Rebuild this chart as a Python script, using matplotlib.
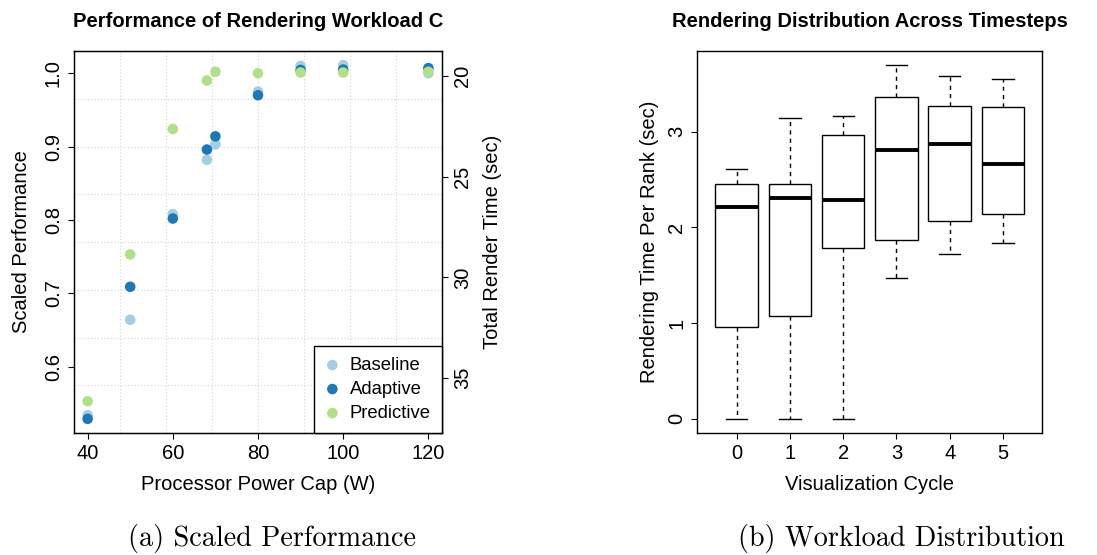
import matplotlib
matplotlib.use("Agg")
import matplotlib.pyplot as plt
import numpy as np

plt.rcParams['font.family'] = ['Liberation Sans', 'DejaVu Sans']

# left panel: scaled performance vs power cap
power_caps = [40, 50, 60, 68, 70, 80, 90, 100, 120]
baseline = [0.534, 0.664, 0.808, 0.882, 0.903, 0.975, 1.010, 1.011, 1.000]
adaptive = [0.529, 0.709, 0.802, 0.896, 0.914, 0.970, 1.0045, 1.005, 1.007]
predictive = [0.553, 0.753, 0.924, 0.990, 1.002, 1.000, 1.001, 1.001, 1.002]
series_names = ['Baseline', 'Adaptive', 'Predictive']
series_colors = ['#a6cee3', '#1f78b4', '#b2df8a']

# right panel: box stats per visualization cycle
cycles = ['0', '1', '2', '3', '4', '5']
whisker_lo = [0.0, 0.0, 0.0, 1.472, 1.723, 1.838]
q1 = [0.957, 1.072, 1.779, 1.866, 2.068, 2.137]
med = [2.217, 2.301, 2.287, 2.809, 2.872, 2.663]
q3 = [2.447, 2.450, 2.969, 3.359, 3.268, 3.254]
whisker_hi = [2.604, 3.143, 3.167, 3.693, 3.575, 3.550]

FS = 14.5
W, H = 1097, 555
fig = plt.figure(figsize=(W / 100, H / 100), dpi=100)

def box(x0, y0, x1, y1):
    return [x0 / W, 1 - y1 / H, (x1 - x0) / W, (y1 - y0) / H]

tick_kw = dict(direction='out', length=4.5, width=0.8, labelsize=FS, pad=3.5, color='black')

# ---------- left ----------
ax = fig.add_axes(box(74, 51, 442, 433))
xlim = (36.8, 123.2)
ylim = (0.5097, 1.0303)
ax.set_xlim(*xlim)
ax.set_ylim(*ylim)
for k in range(1, 8):
    ax.axvline(xlim[0] + k * (xlim[1] - xlim[0]) / 8, color='lightgray', ls=(0, (1, 2)), lw=0.8, zorder=0)
    ax.axhline(ylim[0] + k * (ylim[1] - ylim[0]) / 8, color='lightgray', ls=(0, (1, 2)), lw=0.8, zorder=0)

for vals, name, c in zip([baseline, adaptive, predictive], series_names, series_colors):
    ax.scatter(power_caps, vals, s=58, color=c, edgecolors='none', label=name, zorder=3)

ax.set_xticks([40, 60, 80, 100, 120])
ax.set_yticks([0.6, 0.7, 0.8, 0.9, 1.0])
ax.set_yticklabels(['0.6', '0.7', '0.8', '0.9', '1.0'])
ax.tick_params(**tick_kw)
plt.setp(ax.get_yticklabels(), rotation=90, va='center')
ax.set_xlabel('Processor Power Cap (W)', fontsize=FS, labelpad=8.5)
ax.set_ylabel('Scaled Performance', fontsize=FS, labelpad=9)
ax.set_title('Performance of Rendering Workload C', fontsize=FS, fontweight='bold', pad=17)
for sp in ax.spines.values():
    sp.set_linewidth(1.0)

leg = ax.legend(loc='lower right', bbox_to_anchor=(1, 0), borderaxespad=0, fontsize=13.3,
                frameon=True, fancybox=False, edgecolor='black', framealpha=1,
                handlelength=0.8, handletextpad=0.55, borderpad=0.6, labelspacing=0.38,
                scatterpoints=1)
leg.get_frame().set_linewidth(1.0)

ax2 = ax.twinx()
ax2.set_ylim(37.73, 18.76)
ax2.set_yticks([20, 25, 30, 35])
ax2.tick_params(**tick_kw)
plt.setp(ax2.get_yticklabels(), rotation=90, va='center')
ax2.set_ylabel('Total Render Time (sec)', fontsize=FS, labelpad=8)

# ---------- right ----------
bx = fig.add_axes(box(697.3, 51, 1042.3, 433))
stats = []
for i in range(len(cycles)):
    stats.append(dict(whislo=whisker_lo[i], q1=q1[i], med=med[i], q3=q3[i], whishi=whisker_hi[i], fliers=[]))
bx.bxp(stats, positions=range(len(cycles)), widths=0.8, showfliers=False, patch_artist=True,
       boxprops=dict(facecolor='white', edgecolor='black', linewidth=1.0),
       medianprops=dict(color='black', linewidth=2.8, solid_capstyle='butt'),
       whiskerprops=dict(color='black', linewidth=1.0, linestyle=(0, (3, 3))),
       capprops=dict(color='black', linewidth=1.0), capwidths=0.4)
bx.set_xlim(-0.74, 5.74)
bx.set_ylim(-0.148, 3.841)
bx.set_xticks(range(len(cycles)))
bx.set_xticklabels(cycles)
bx.set_yticks([0, 1, 2, 3])
bx.tick_params(**tick_kw)
plt.setp(bx.get_yticklabels(), rotation=90, va='center')
bx.set_xlabel('Visualization Cycle', fontsize=FS, labelpad=8.5)
bx.set_ylabel('Rendering Time Per Rank (sec)', fontsize=FS, labelpad=6)
bx.set_title('Rendering Distribution Across Timesteps', fontsize=FS, fontweight='bold', pad=17)
for sp in bx.spines.values():
    sp.set_linewidth(1.0)

# captions
fig.text(272 / W, 1 - 546 / H, '(a) Scaled Performance', family='cmr10', fontsize=20.3,
         ha='center', va='baseline')
fig.text(901 / W, 1 - 546 / H, '(b) Workload Distribution', family='cmr10', fontsize=20.3,
         ha='center', va='baseline')

fig.savefig('out.png', dpi=100)
